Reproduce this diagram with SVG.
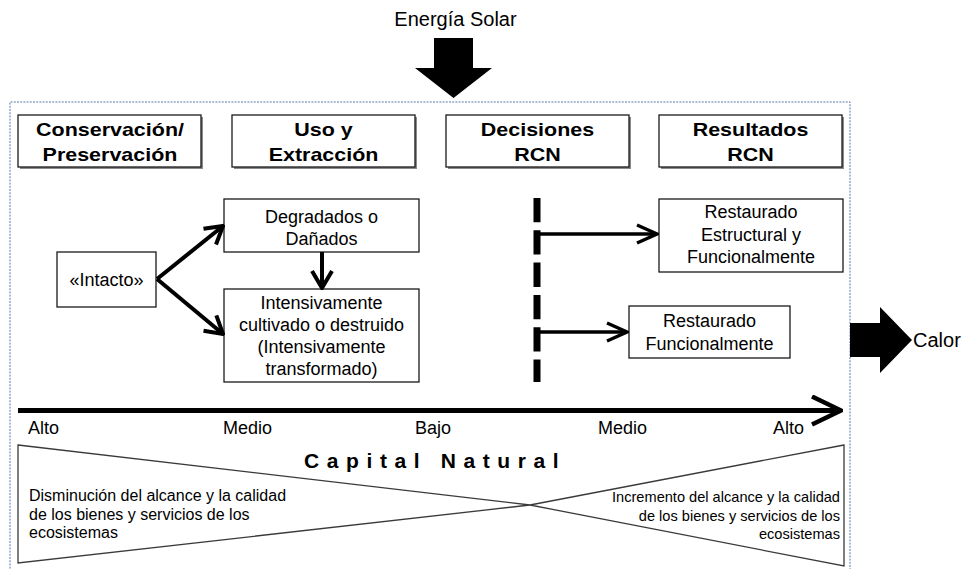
<svg xmlns="http://www.w3.org/2000/svg" width="963" height="569" viewBox="0 0 963 569">
<style>
text{font-family:"Liberation Sans",Arial,sans-serif;fill:#000}
.h{font-size:19px;font-weight:bold;text-anchor:middle}
.t{font-size:18px;text-anchor:middle}
.a{font-size:18px}
.box{fill:#fff;stroke:#1a1a1a;stroke-width:1.3}
.sh{fill:#8a8a8a}
.ln{fill:none;stroke:#000;stroke-linecap:butt}
.wedge{fill:#fff;stroke:#3a3a3a;stroke-width:1.3}
</style>
<defs>
<marker id="ahL" viewBox="-24 -12 26 24" markerWidth="26" markerHeight="24" refX="0" refY="0" orient="auto" markerUnits="userSpaceOnUse">
<path d="M-17,-10 L0,0 L-17,10" fill="none" stroke="#000" stroke-width="4"/>
</marker>
<marker id="ahR" viewBox="-24 -12 26 24" markerWidth="26" markerHeight="24" refX="0" refY="0" orient="auto" markerUnits="userSpaceOnUse">
<path d="M-20,-9 L0,0 L-20,9" fill="none" stroke="#000" stroke-width="3.3"/>
</marker>
<marker id="ahAxis" viewBox="-34 -16 36 32" markerWidth="36" markerHeight="32" refX="0" refY="0" orient="auto" markerUnits="userSpaceOnUse">
<path d="M-29,-14 L0,0 L-29,14" fill="none" stroke="#000" stroke-width="4.5"/>
</marker>
</defs>

<g id="frame">
<path d="M10,575 L10,102 L850,102 L850,575" fill="none" stroke="#5a78a8" stroke-width="1" stroke-dasharray="2 1.2"/>
</g>

<g id="energia-solar">
<text x="455.5" y="26" style="font-size:20px;text-anchor:middle">Energía Solar</text>
<polygon points="434,38 473,38 473,68 492,68 453.5,98 415,68 434,68" fill="#000"/>
</g>

<g id="calor">
<polygon points="850,323 880,323 880,307 912,340 880,373 880,357 850,357" fill="#000"/>
<text x="913" y="347" style="font-size:20px">Calor</text>
</g>

<g id="h-conservacion">
<rect class="sh" x="20" y="117" width="183" height="52"/>
<rect class="box" x="18" y="115" width="183" height="52"/>
<text class="h" transform="translate(110,136) scale(1.13,1)">Conservación/</text>
<text class="h" transform="translate(110,161) scale(1.13,1)">Preservación</text>
</g>
<g id="h-uso">
<rect class="sh" x="234" y="117" width="183" height="52"/>
<rect class="box" x="232" y="115" width="183" height="52"/>
<text class="h" transform="translate(323.5,136) scale(1.13,1)">Uso y</text>
<text class="h" transform="translate(323.5,161) scale(1.13,1)">Extracción</text>
</g>
<g id="h-decisiones">
<rect class="sh" x="448" y="117" width="183" height="52"/>
<rect class="box" x="446" y="115" width="183" height="52"/>
<text class="h" transform="translate(537.5,136) scale(1.13,1)">Decisiones</text>
<text class="h" transform="translate(537.5,161) scale(1.13,1)">RCN</text>
</g>
<g id="h-resultados">
<rect class="sh" x="661" y="117" width="183" height="52"/>
<rect class="box" x="659" y="115" width="183" height="52"/>
<text class="h" transform="translate(750.5,136) scale(1.13,1)">Resultados</text>
<text class="h" transform="translate(750.5,161) scale(1.13,1)">RCN</text>
</g>

<g id="intacto">
<rect class="box" x="57" y="252" width="99" height="55"/>
<text class="t" x="106.5" y="286">«Intacto»</text>
</g>
<g id="degradados">
<rect class="box" x="224" y="199" width="195" height="53"/>
<text class="t" x="321.5" y="223">Degradados o</text>
<text class="t" x="321.5" y="245">Dañados</text>
</g>
<g id="intensivamente">
<rect class="box" x="224" y="289" width="195" height="93"/>
<text class="t" x="321.5" y="309">Intensivamente</text>
<text class="t" x="321.5" y="331">cultivado o destruido</text>
<text class="t" x="321.5" y="353">(Intensivamente</text>
<text class="t" x="321.5" y="375">transformado)</text>
</g>
<g id="restaurado-ef">
<rect class="box" x="659" y="199" width="184" height="73"/>
<text class="t" x="751" y="218">Restaurado</text>
<text class="t" x="751" y="241">Estructural y</text>
<text class="t" x="751" y="263">Funcionalmente</text>
</g>
<g id="restaurado-f">
<rect class="box" x="629" y="306" width="161" height="52"/>
<text class="t" x="709.5" y="327">Restaurado</text>
<text class="t" x="709.5" y="350">Funcionalmente</text>
</g>

<g id="connectors">
<line class="ln" x1="157" y1="279" x2="223" y2="226" stroke-width="4" marker-end="url(#ahL)"/>
<line class="ln" x1="157" y1="279" x2="223" y2="334" stroke-width="4" marker-end="url(#ahL)"/>
<line class="ln" x1="322" y1="252" x2="322" y2="288" stroke-width="4" marker-end="url(#ahL)"/>
<line class="ln" x1="537" y1="198" x2="537" y2="382" stroke-width="7" stroke-dasharray="24.3 8"/>
<line class="ln" x1="537" y1="234" x2="657" y2="234" stroke-width="3.3" marker-end="url(#ahR)"/>
<line class="ln" x1="537" y1="332" x2="627" y2="332" stroke-width="3.3" marker-end="url(#ahR)"/>
<line class="ln" x1="18" y1="410.5" x2="841" y2="410.5" stroke-width="5" marker-end="url(#ahAxis)"/>
</g>

<g id="axis-labels">
<text class="a" x="28" y="434">Alto</text>
<text class="a" x="223" y="434">Medio</text>
<text class="a" x="415" y="434">Bajo</text>
<text class="a" x="598" y="434">Medio</text>
<text class="a" x="773" y="434">Alto</text>
</g>

<g id="capital-natural">
<polygon class="wedge" points="18,445 530,505 18,563"/>
<polygon class="wedge" points="844,445 530,505 844,566"/>
<text x="304" y="468" style="font-size:21px;font-weight:bold;letter-spacing:7.6px">Capital Natural</text>
<text x="29" y="501" style="font-size:16px">Disminución del alcance y la calidad</text>
<text x="29" y="520" style="font-size:16px">de los bienes y servicios de los</text>
<text x="29" y="538" style="font-size:16px">ecosistemas</text>
<text x="840" y="502" style="font-size:14.6px;text-anchor:end">Incremento del alcance y la calidad</text>
<text x="840" y="521" style="font-size:14.6px;text-anchor:end">de los bienes y servicios de los</text>
<text x="840" y="539" style="font-size:14.6px;text-anchor:end">ecosistemas</text>
</g>
</svg>
